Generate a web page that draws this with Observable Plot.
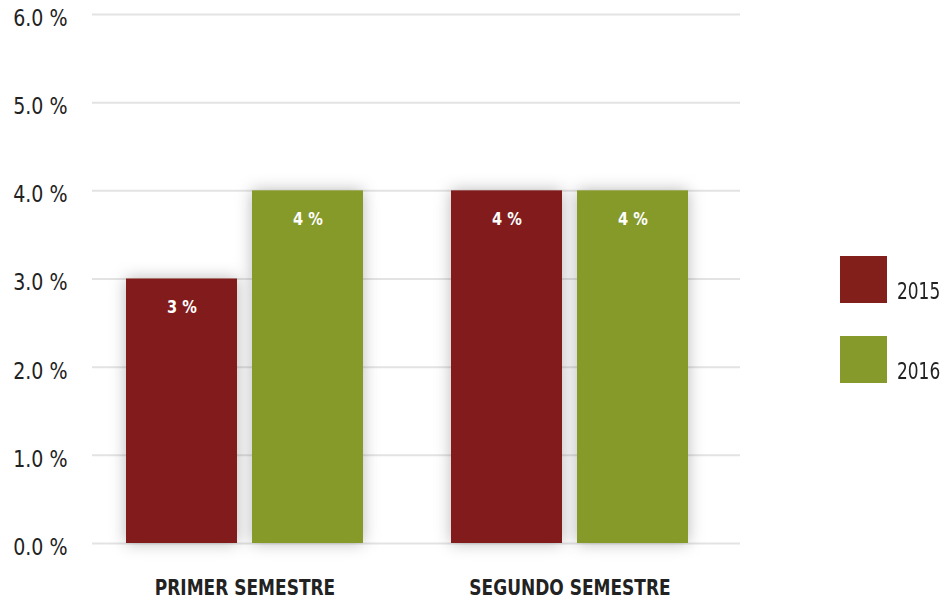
<!DOCTYPE html>
<html>
<head>
<meta charset="utf-8">
<script src="https://cdn.jsdelivr.net/npm/d3@7"></script>
<script src="https://cdn.jsdelivr.net/npm/@observablehq/plot@0.6"></script>
<style>
  body { margin: 0; background: #fff; }
  #wrap { position: relative; width: 947px; height: 602px; font-family: "Liberation Sans Narrow", "DejaVu Sans Condensed", "Liberation Sans", sans-serif; font-stretch: condensed; }
  .legend { position: absolute; left: 840px; }
  .legend .sw { position: absolute; left: 0; top: 0; width: 47px; height: 47px; }
  .legend .lb { position: absolute; left: 57px; top: 22px; font-size: 23px; color: #222; white-space: nowrap; transform: scaleX(0.82); transform-origin: 0 0; }
</style>
</head>
<body>
<div id="wrap"></div>
<script>
const semesters = ["PRIMER SEMESTRE", "SEGUNDO SEMESTRE"];
const years = ["2015", "2016"];
const values2015 = [3, 4];
const values2016 = [4, 4];
const colors = ["#821f1a", "#869a2b"];
const yTicks = [0, 1, 2, 3, 4, 5, 6];

const d2015 = semesters.map((s, i) => ({semester: s, year: years[0], value: values2015[i]}));
const d2016 = semesters.map((s, i) => ({semester: s, year: years[1], value: values2016[i]}));

const font = '"Liberation Sans Narrow", "DejaVu Sans Condensed", "Liberation Sans", sans-serif';

const chart = Plot.plot({
  width: 947,
  height: 602,
  marginLeft: 92,
  marginRight: 207,
  marginTop: 14,
  marginBottom: 59,
  style: {fontFamily: font, fontSize: "23px", color: "#222", background: "#fff"},
  x: {domain: semesters, paddingInner: 0.271, paddingOuter: 0.1046, insetRight: 18, label: null},
  y: {domain: [0, 6], ticks: yTicks, label: null},
  color: {domain: years, range: colors},
  marks: [
    Plot.ruleY(yTicks, {stroke: "#e3e3e3", strokeWidth: 2}),
    Plot.axisY({ticks: yTicks, tickSize: 0, tickPadding: 0, dx: -25, dy: 4, textAnchor: "end",
                tickFormat: d => d.toFixed(1) + " %", label: null, fill: "#222", fontSize: 23}),
    Plot.axisX({tickSize: 0, tickPadding: 36, label: null, fontWeight: "bold", fontSize: 22, fill: "#222"}),
    Plot.barY(d2015, {x: "semester", y: "value", fill: "year", insetRight: 126}),
    Plot.barY(d2016, {x: "semester", y: "value", fill: "year", insetLeft: 126}),
    Plot.text(d2015, {x: "semester", y: "value", text: d => d.value + " %", dx: -63, dy: 28,
                      fill: "white", fontWeight: "bold", fontSize: 18}),
    Plot.text(d2016, {x: "semester", y: "value", text: d => d.value + " %", dx: 63, dy: 28,
                      fill: "white", fontWeight: "bold", fontSize: 18})
  ]
});

// condense the lettering horizontally to match the narrow typeface of the original
function condense(selector, k) {
  chart.querySelectorAll(selector + " text").forEach(t => {
    const tr = t.getAttribute("transform") || "";
    t.setAttribute("transform", tr + ` scale(${k},1)`);
  });
}
condense('g[aria-label="x-axis tick label"]', 0.86);
condense('g[aria-label="y-axis tick label"]', 0.92);
condense('g[aria-label="text"]', 0.9);

// soft shadow around the bars
const ns = "http://www.w3.org/2000/svg";
const defs = document.createElementNS(ns, "defs");
defs.innerHTML = '<filter id="barshadow" x="-30%" y="-30%" width="160%" height="160%"><feDropShadow dx="0" dy="0" stdDeviation="8" flood-color="#000" flood-opacity="0.28"/></filter>';
chart.insertBefore(defs, chart.firstChild);
chart.querySelectorAll('g[aria-label="bar"]').forEach(g => g.setAttribute("filter", "url(#barshadow)"));

const wrap = document.getElementById("wrap");
wrap.appendChild(chart);

years.forEach((y, i) => {
  const item = document.createElement("div");
  item.className = "legend";
  item.style.top = (256 + i * 80) + "px";
  item.innerHTML = `<div class="sw" style="background:${colors[i]}"></div><div class="lb">${y}</div>`;
  wrap.appendChild(item);
});
</script>
</body>
</html>
